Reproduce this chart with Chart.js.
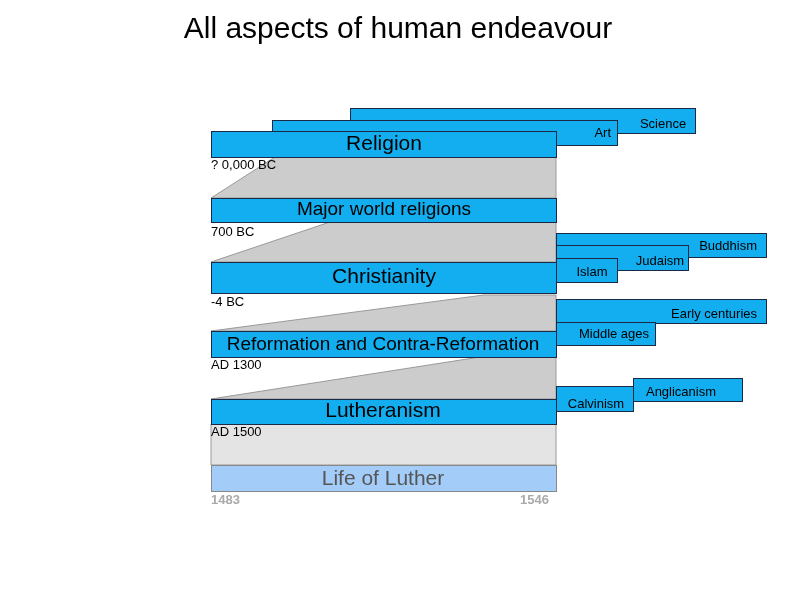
<!DOCTYPE html>
<html>
<head>
<meta charset="utf-8">
<script src="https://cdn.jsdelivr.net/npm/chart.js@4.4.0/dist/chart.umd.min.js"></script>
<style>body{margin:0;background:#fff}canvas{display:block}</style>
</head>
<body>
<canvas id="c" width="794" height="596"></canvas>
<script>
// boxes, drawn back to front
var boxNames = ["Science", "Art", "Religion", "Major world religions", "Buddhism", "Judaism", "Islam", "Christianity",
  "Early centuries", "Middle ages", "Reformation and Contra-Reformation", "Anglicanism", "Calvinism", "Lutheranism", "Life of Luther"];
var boxLeft   = [350, 272, 211, 211, 556, 556, 556, 211, 556, 556, 211, 633, 556, 211, 211];
var boxRight  = [695, 617, 556, 556, 766, 688, 617, 556, 766, 655, 556, 742, 633, 556, 556];
var boxTop    = [108, 120, 131, 198, 233, 245, 258, 262, 299, 322, 331, 378, 386, 399, 465];
var boxBottom = [133, 145, 157, 222, 257, 270, 282, 293, 323, 345, 357, 401, 411, 424, 491];
var textX     = [663, 611, 384, 384, 757, 660, 592, 384, 757, 614, 383, 681, 596, 383, 383];
var textY     = [124, 133, 144, 210, 246, 261, 272, 277, 314, 334, 345, 392, 404, 411, 479];
var textAlign = ["center","right","center","center","right","center","center","center","right","center","center","center","center","center","center"];
var textSize  = [13, 13, 21, 19, 13, 13, 13, 21, 13, 13, 19, 13, 13, 21, 21];

// grey zoom wedges: top-left x, top y, bottom y
var wedgeTopX = [275, 330, 484, 480, 211];
var wedgeTopY = [157, 222, 295, 357, 424];
var wedgeBotY = [198, 262, 331, 399, 465];
var wedgeFill = ["#cccccc", "#cccccc", "#cccccc", "#cccccc", "#e4e4e4"];

// date labels
var dateText = ["? 0,000 BC", "700 BC", "-4 BC", "AD 1300", "AD 1500", "1483", "1546"];
var dateX    = [211, 211, 211, 211, 211, 211, 549];
var dateY    = [165, 232, 302, 365, 432, 500, 500];
var dateAlign = ["left","left","left","left","left","left","right"];
var dateColor = ["#000","#000","#000","#000","#000","#aaa","#aaa"];

var diagram = {
  id: "diagram",
  afterDatasetsDraw: function(chart) {
    var c = chart.ctx, sx = chart.scales.x, sy = chart.scales.y;
    var X = function(v){ return sx.getPixelForValue(v); };
    var Y = function(v){ return sy.getPixelForValue(v); };
    c.save();
    c.fillStyle = "#000";
    c.font = "30px 'Liberation Sans', Arial";
    c.textAlign = "center"; c.textBaseline = "middle";
    c.fillText("All aspects of human endeavour", X(398), Y(30));

    for (var w = 0; w < wedgeTopX.length; w++) {
      c.beginPath();
      c.moveTo(X(wedgeTopX[w]), Y(wedgeTopY[w]));
      c.lineTo(X(556), Y(wedgeTopY[w]));
      c.lineTo(X(556), Y(wedgeBotY[w]));
      c.lineTo(X(211), Y(wedgeBotY[w]));
      c.closePath();
      c.fillStyle = wedgeFill[w]; c.fill();
      c.strokeStyle = "#999"; c.lineWidth = 1; c.stroke();
    }

    for (var i = 0; i < boxNames.length; i++) {
      var last = boxNames[i] === "Life of Luther";
      var x0 = X(boxLeft[i]), x1 = X(boxRight[i]), y0 = Y(boxTop[i]), y1 = Y(boxBottom[i]);
      c.fillStyle = last ? "#a3cdf8" : "#12aef0";
      c.fillRect(x0, y0, x1 - x0, y1 - y0);
      c.strokeStyle = last ? "#888" : "#1b2a44"; c.lineWidth = 1;
      c.strokeRect(x0 + 0.5, y0 + 0.5, x1 - x0, y1 - y0);
      c.fillStyle = last ? "#555" : "#000";
      c.font = textSize[i] + "px 'Liberation Sans', Arial";
      c.textAlign = textAlign[i];
      c.fillText(boxNames[i], X(textX[i]), Y(textY[i]));
    }

    for (var d = 0; d < dateText.length; d++) {
      c.fillStyle = dateColor[d];
      c.font = (d >= 5 ? "bold " : "") + "13px 'Liberation Sans', Arial";
      c.textAlign = dateAlign[d];
      c.fillText(dateText[d], X(dateX[d]), Y(dateY[d]));
    }
    c.restore();
  }
};

new Chart(document.getElementById("c"), {
  type: "scatter",
  data: { datasets: [{ data: [], pointRadius: 0 }] },
  options: {
    responsive: false, animation: false,
    layout: { padding: 0 },
    plugins: { legend: { display: false }, tooltip: { enabled: false } },
    scales: {
      x: { type: "linear", min: 0, max: 794, display: false },
      y: { type: "linear", min: 0, max: 596, reverse: true, display: false }
    }
  },
  plugins: [diagram]
});
</script>
</body>
</html>
